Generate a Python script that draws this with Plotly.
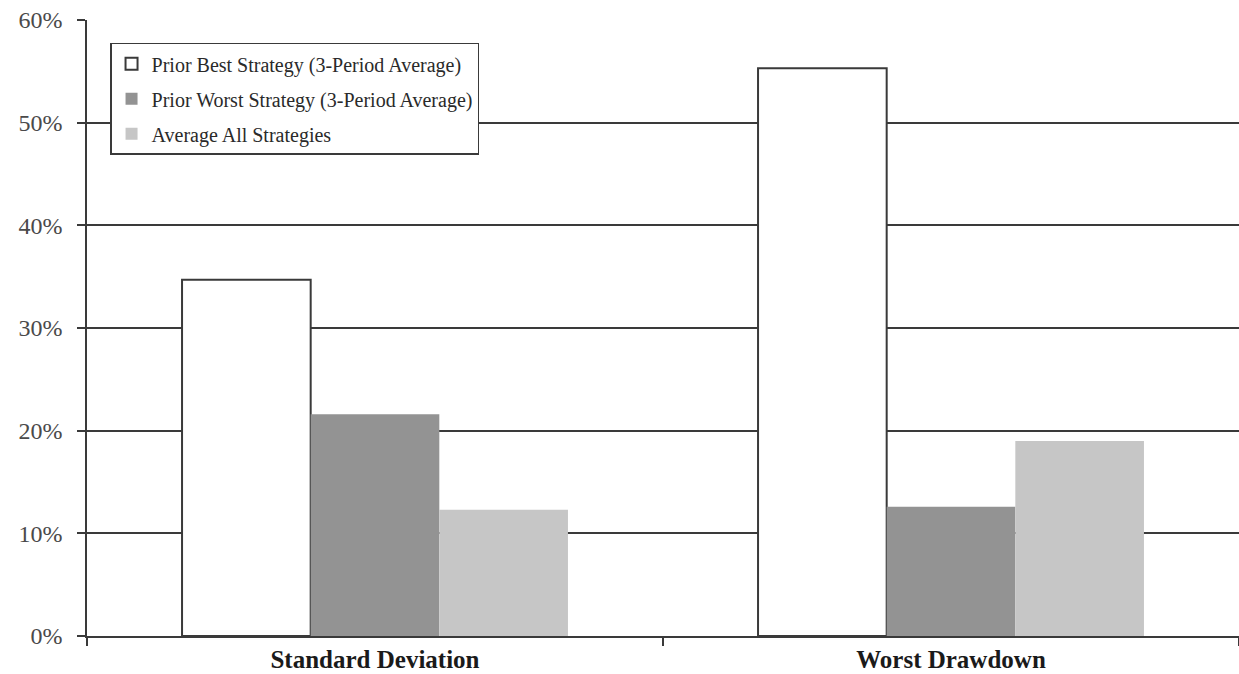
import plotly.graph_objects as go

# Chart data (percent)
categories = ["Standard Deviation", "Worst Drawdown"]
series_names = [
    "Prior Best Strategy (3-Period Average)",
    "Prior Worst Strategy (3-Period Average)",
    "Average All Strategies",
]
prior_best = [34.7, 55.3]
prior_worst = [21.6, 12.6]
average_all = [12.3, 19.0]
y_ticks = [0, 10, 20, 30, 40, 50, 60]
y_tick_labels = ["0%", "10%", "20%", "30%", "40%", "50%", "60%"]

SERIF = "Liberation Serif"
AXIS_COLOR = "#3a3a3a"

fig = go.Figure()
fig.add_trace(go.Bar(
    name=series_names[0], x=categories, y=prior_best, legendgroup="a",
    marker=dict(color="white", line=dict(color=AXIS_COLOR, width=2)),
))
fig.add_trace(go.Bar(
    name=series_names[1], x=categories, y=prior_worst, legendgroup="b",
    marker=dict(color="#939393", line=dict(width=0)),
))
fig.add_trace(go.Bar(
    name=series_names[2], x=categories, y=average_all, legendgroup="c",
    marker=dict(color="#c6c6c6", line=dict(width=0)),
))

fig.update_layout(
    width=1239, height=674,
    margin=dict(l=87, r=0, t=20, b=38),
    paper_bgcolor="white", plot_bgcolor="white",
    barmode="group", bargap=0.33, bargroupgap=0,
    showlegend=True,
    legend=dict(
        x=0.02, y=0.963, xanchor="left", yanchor="top",
        bgcolor="white", bordercolor=AXIS_COLOR, borderwidth=1.5,
        font=dict(family=SERIF, size=20, color="#2a2a2a"),
        itemwidth=30, tracegroupgap=6,
    ),
    xaxis=dict(
        showline=True, linecolor=AXIS_COLOR, linewidth=1.5,
        ticks="outside", tickson="boundaries", ticklen=8,
        tickcolor=AXIS_COLOR, tickwidth=1.5,
        tickfont=dict(family=SERIF, size=25, color="#1a1a1a", weight="bold"),
        automargin=False, showgrid=False,
    ),
    yaxis=dict(
        range=[0, 60], tickvals=y_ticks, ticktext=y_tick_labels,
        showline=True, linecolor=AXIS_COLOR, linewidth=1.5,
        ticks="outside", ticklen=8, tickcolor=AXIS_COLOR, tickwidth=1.5,
        ticklabelstandoff=10,
        showgrid=True, gridcolor=AXIS_COLOR, gridwidth=1.5,
        zeroline=False,
        tickfont=dict(family=SERIF, size=24, color="#4a4a4a"),
        automargin=False,
    ),
)

fig.write_html("out.html")
